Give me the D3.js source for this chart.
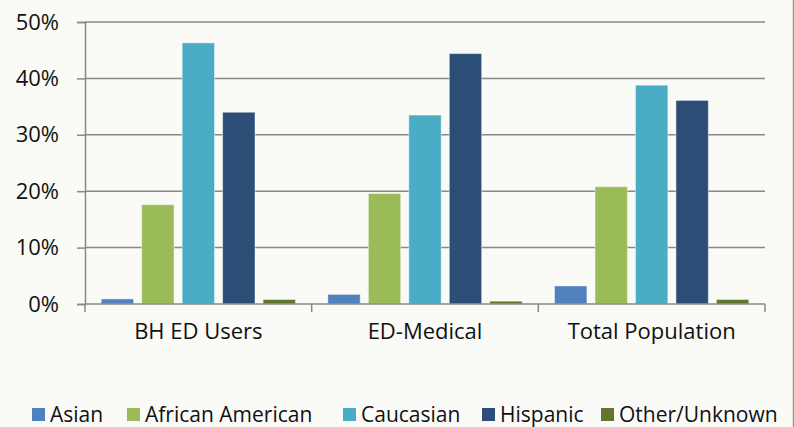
<!DOCTYPE html>
<html>
<head>
<meta charset="utf-8">
<script src="https://cdn.jsdelivr.net/npm/d3@7"></script>
<style>
  html, body { margin: 0; padding: 0; background: #fafaf6; }
  svg { display: block; font-family: "Open Sans", sans-serif; }
</style>
</head>
<body>
<div id="chart"></div>
<script>
const categories = ['BH ED Users', 'ED-Medical', 'Total Population'];
const seriesNames = ['Asian', 'African American', 'Caucasian', 'Hispanic', 'Other/Unknown'];
const asian = [0.9, 1.7, 3.2];
const africanAmerican = [17.6, 19.6, 20.8];
const caucasian = [46.3, 33.5, 38.8];
const hispanic = [34.0, 44.4, 36.1];
const otherUnknown = [0.8, 0.5, 0.8];
const yTicks = [0, 10, 20, 30, 40, 50];
const colors = ['#4f81bd', '#9bbb59', '#4bacc6', '#2c4d75', '#5f7530'];

const seriesValues = [asian, africanAmerican, caucasian, hispanic, otherUnknown];
const width = 794, height = 427;
const margin = { top: 22, right: 29, bottom: 123, left: 85 };

const svg = d3.select('#chart').append('svg')
  .attr('width', width)
  .attr('height', height);

svg.append('rect').attr('width', width).attr('height', height).attr('fill', '#fafaf6');

const x0 = d3.scaleBand().domain(categories)
  .range([margin.left, width - margin.right]).padding(0);
const x1 = d3.scaleBand().domain(seriesNames)
  .range([0, x0.bandwidth()]).paddingInner(0.2).paddingOuter(0.4);
const y = d3.scaleLinear().domain([0, 50])
  .range([height - margin.bottom, margin.top]);

// gridlines
svg.append('g')
  .selectAll('line')
  .data(yTicks.filter(d => d > 0))
  .join('line')
  .attr('x1', margin.left)
  .attr('x2', width - margin.right)
  .attr('y1', d => y(d))
  .attr('y2', d => y(d))
  .attr('stroke', '#888')
  .attr('stroke-width', 1.5);

// y axis
const yAxis = svg.append('g')
  .attr('transform', `translate(${margin.left},0)`)
  .call(d3.axisLeft(y).tickValues(yTicks).tickFormat(d => d + '%').tickSize(8).tickPadding(18));
yAxis.select('.domain').attr('stroke', '#888').attr('stroke-width', 1.5);
yAxis.selectAll('.tick line').attr('stroke', '#888').attr('stroke-width', 1.5);
yAxis.selectAll('.tick text')
  .attr('font-size', 22).attr('fill', '#111').attr('font-family', '"Open Sans", sans-serif');

// bars
const groups = svg.append('g')
  .selectAll('g')
  .data(categories)
  .join('g')
  .attr('transform', d => `translate(${x0(d)},0)`);

groups.selectAll('rect')
  .data((c, ci) => seriesNames.map((s, si) => ({ s, si, v: seriesValues[si][ci] })))
  .join('rect')
  .attr('x', d => x1(d.s))
  .attr('width', x1.bandwidth())
  .attr('y', d => y(d.v))
  .attr('height', d => y(0) - y(d.v))
  .attr('fill', d => colors[d.si])
  .attr('stroke', '#fff')
  .attr('stroke-opacity', 0.45)
  .attr('stroke-width', 1);

// x axis
const xAxis = svg.append('g')
  .attr('transform', `translate(0,${y(0)})`)
  .call(d3.axisBottom(x0).tickSize(0).tickPadding(19));
xAxis.select('.domain').remove();
xAxis.append('line')
  .attr('x1', margin.left).attr('x2', width - margin.right)
  .attr('stroke', '#888').attr('stroke-width', 1.5);
xAxis.selectAll('.sep')
  .data([0, 1, 2, 3])
  .join('line')
  .attr('class', 'sep')
  .attr('x1', i => margin.left + i * x0.step())
  .attr('x2', i => margin.left + i * x0.step())
  .attr('y1', 0).attr('y2', 8)
  .attr('stroke', '#888').attr('stroke-width', 1.5);
xAxis.selectAll('.tick text')
  .attr('font-size', 22).attr('fill', '#111').attr('font-family', '"Open Sans", sans-serif');

// legend
const legendX = [32, 127, 343, 482, 601];
const legend = svg.append('g')
  .selectAll('g')
  .data(seriesNames)
  .join('g')
  .attr('transform', (d, i) => `translate(${legendX[i]},408)`);
legend.append('rect')
  .attr('width', 13).attr('height', 13)
  .attr('fill', (d, i) => colors[i]);
legend.append('text')
  .attr('x', 18).attr('y', 14)
  .attr('font-size', 21).attr('fill', '#111')
  .text(d => d);

// right border
svg.append('line')
  .attr('x1', 793.5).attr('x2', 793.5).attr('y1', 0).attr('y2', height)
  .attr('stroke', '#77b55a').attr('stroke-width', 1.5);
</script>
</body>
</html>
